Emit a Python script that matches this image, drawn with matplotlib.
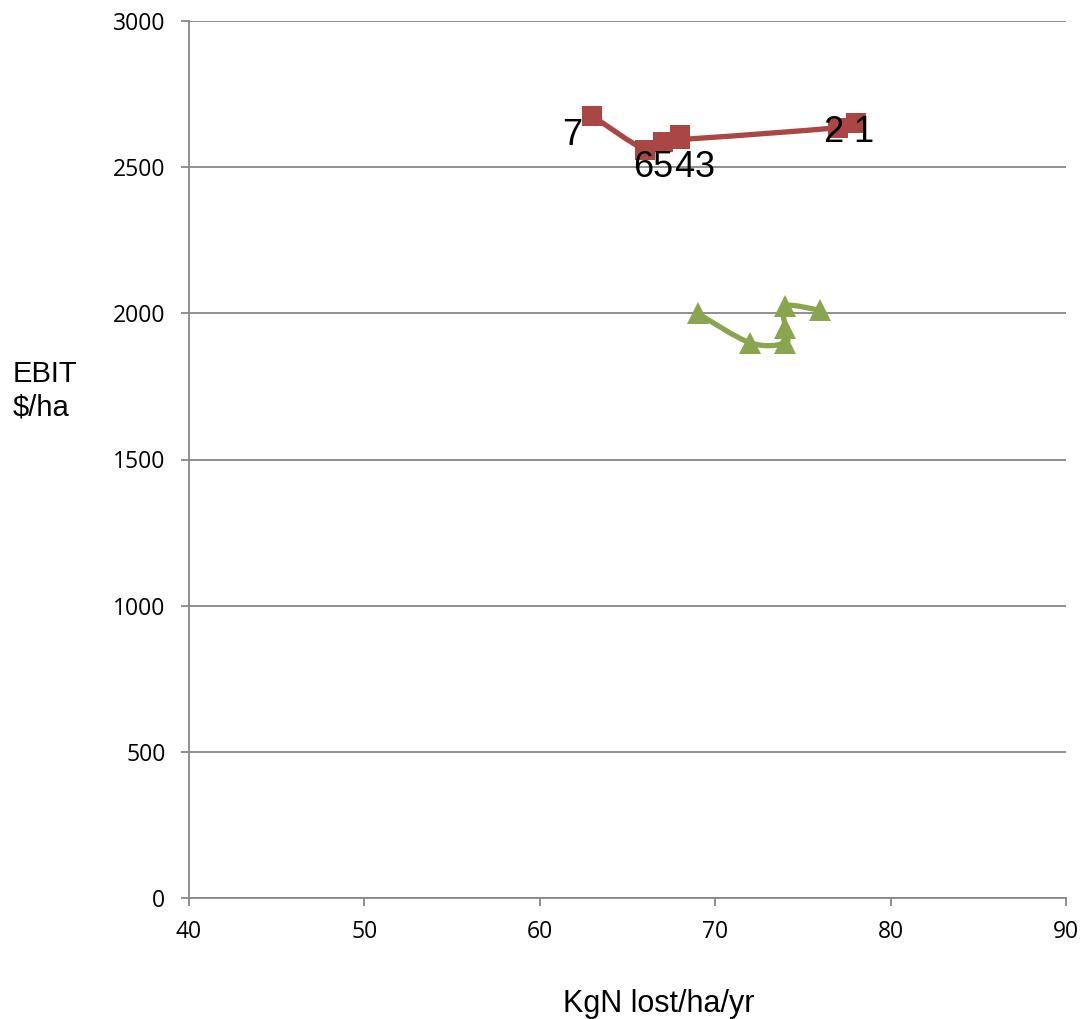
import numpy as np
import matplotlib
matplotlib.use("Agg")
import matplotlib.pyplot as plt
from matplotlib.path import Path
from matplotlib.patches import PathPatch

# Scenario results: nitrogen loss vs EBIT
red_x = [63, 66, 67, 68, 68, 77, 78]
red_y = [2675, 2560, 2585, 2610, 2595, 2635, 2650]
red_labels = ["7", "6", "5", "4", "3", "2", "1"]

green_x = [69, 72, 74, 74, 74, 76]
green_y = [2000, 1899, 1899, 1950, 2025, 2010]

x_ticks = [40, 50, 60, 70, 80, 90]
y_ticks = [0, 500, 1000, 1500, 2000, 2500, 3000]

# label placement (pixel offsets from each point: dx right, dy down to baseline)
label_dx = [-20, -2, 0, 4, 25, -5, 8]
label_dy = [29, 27, 35, 42, 38, 14, 19]

RED = "#AA4643"
GREEN = "#89A54E"
GRID = "#878787"


def smooth_path(xs, ys):
    """Catmull-Rom style cubic Bezier through the points."""
    pts = np.column_stack([xs, ys]).astype(float)
    n = len(pts)
    verts = [pts[0]]
    codes = [Path.MOVETO]
    for i in range(n - 1):
        p0 = pts[i - 1] if i > 0 else pts[i]
        p1 = pts[i]
        p2 = pts[i + 1]
        p3 = pts[i + 2] if i + 2 < n else pts[i + 1]
        c1 = p1 + (p2 - p0) / 6.0
        c2 = p2 - (p3 - p1) / 6.0
        verts += [c1, c2, p2]
        codes += [Path.CURVE4] * 3
    return Path(verts, codes)


W, H = 1081, 1019
fig = plt.figure(figsize=(W / 100, H / 100), dpi=100)
ax = fig.add_axes([189 / W, 1 - 898 / H, (1066 - 189) / W, (898 - 21) / H])

ax.set_xlim(40, 90)
ax.set_ylim(0, 3000)
ax.set_xticks(x_ticks)
ax.set_yticks(y_ticks)

for s in ["top", "right"]:
    ax.spines[s].set_visible(False)
for s in ["left", "bottom"]:
    ax.spines[s].set_color(GRID)
    ax.spines[s].set_linewidth(1.3)

ax.yaxis.grid(True, color=GRID, linewidth=1.3)
ax.set_axisbelow(True)
ax.tick_params(axis="both", direction="out", length=6, width=1.3, color=GRID,
               labelsize=16.5, labelcolor="black")
ax.tick_params(axis="y", pad=11)
ax.tick_params(axis="x", pad=10)
for lab in ax.get_xticklabels() + ax.get_yticklabels():
    lab.set_fontfamily("Open Sans")

# smoothed series lines
ax.add_patch(PathPatch(smooth_path(red_x, red_y), facecolor="none",
                       edgecolor=RED, linewidth=3.8, capstyle="round",
                       joinstyle="round", zorder=3))
ax.add_patch(PathPatch(smooth_path(green_x, green_y), facecolor="none",
                       edgecolor=GREEN, linewidth=3.8, capstyle="round",
                       joinstyle="round", zorder=3))

ax.plot(red_x, red_y, linestyle="none", marker="s", markersize=14.5,
        color=RED, markeredgewidth=0, zorder=4)
ax.plot(green_x, green_y, linestyle="none", marker="^", markersize=15.5,
        color=GREEN, markeredgewidth=0, zorder=4)

for x, y, t, dx, dy in zip(red_x, red_y, red_labels, label_dx, label_dy):
    ax.annotate(t, (x, y), xytext=(dx, -dy), textcoords="offset pixels",
                ha="center", va="baseline", fontsize=26,
                fontfamily="Liberation Sans", color="black", zorder=5)

fig.text(563 / W, 1 - 1012 / H, "KgN lost/ha/yr", fontsize=22,
         fontfamily="Liberation Sans", ha="left", va="baseline")
fig.text(13 / W, 1 - 382 / H, "EBIT", fontsize=21,
         fontfamily="Liberation Sans", ha="left", va="baseline")
fig.text(13 / W, 1 - 416 / H, "$/ha", fontsize=21,
         fontfamily="Liberation Sans", ha="left", va="baseline")

fig.savefig("out.png", dpi=100)
